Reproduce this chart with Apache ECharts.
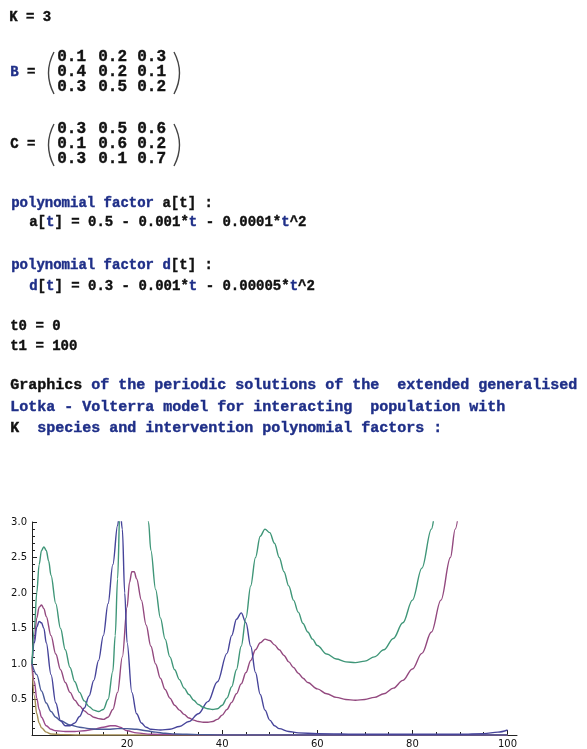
<!DOCTYPE html>
<html>
<head>
<meta charset="utf-8">
<script src="https://cdn.jsdelivr.net/npm/echarts@6/dist/echarts.min.js"></script>
<style>
  html, body { margin: 0; padding: 0; background: #ffffff; }
  #main { width: 587px; height: 749px; }
</style>
</head>
<body>
<div id="main"></div>
<script>
// Interaction matrices of the model
const matB = [[0.1, 0.2, 0.3], [0.4, 0.2, 0.1], [0.3, 0.5, 0.2]];
const matC = [[0.3, 0.5, 0.6], [0.1, 0.6, 0.2], [0.3, 0.1, 0.7]];

// Axis ticks
const xTicks = [20, 40, 60, 80, 100];
const yTicks = [0.5, 1.0, 1.5, 2.0, 2.5, 3.0];

// Population trajectories, [t, value]
const popGreen = [[0,1.0],[0.5,1.5],[1,2.0],[1.5,2.4],[2,2.6],[2.5,2.65],[3,2.6],[3.5,2.45],[4,2.25],[5,1.85],[6,1.5],[7,1.2],[8,0.95],[9,0.75],[10,0.6],[11,0.48],[12,0.4],[13,0.35],[14,0.33],[15,0.36],[16,0.5],[17,0.9],[17.5,1.4],[18,2.2],[18.5,3.2],[19,4.0],[20,5.0],[22,5.0],[24,3.3],[24.5,3.0],[25,2.6],[26,2.05],[27,1.65],[28,1.35],[29,1.1],[30,0.92],[31,0.78],[32,0.66],[33,0.57],[34,0.49],[35,0.43],[36,0.39],[37,0.37],[38,0.36],[39,0.37],[40,0.42],[41,0.52],[42,0.68],[43,0.92],[44,1.25],[45,1.65],[46,2.1],[47,2.5],[48,2.8],[49,2.9],[50,2.85],[51,2.7],[52,2.5],[53,2.3],[54,2.1],[55,1.9],[56,1.73],[57,1.57],[58,1.45],[59,1.35],[60,1.26],[62,1.14],[64,1.07],[66,1.03],[68,1.02],[70,1.04],[72,1.1],[74,1.2],[76,1.36],[78,1.58],[80,1.9],[82,2.35],[84,2.9],[85,3.2],[86,3.6]];

const popPurple = [[0,1.0],[0.5,1.35],[1,1.65],[1.5,1.8],[2,1.83],[2.5,1.78],[3,1.67],[4,1.4],[5,1.14],[6,0.92],[7,0.74],[8,0.6],[9,0.49],[10,0.41],[11,0.34],[12,0.29],[13,0.25],[14,0.23],[15,0.22],[16,0.25],[17,0.36],[18,0.6],[19,1.1],[20,1.8],[20.5,2.15],[21,2.3],[21.5,2.3],[22,2.2],[23,1.9],[24,1.55],[25,1.25],[26,1.0],[27,0.8],[28,0.64],[29,0.52],[30,0.42],[31,0.35],[32,0.29],[33,0.24],[34,0.21],[35,0.19],[36,0.18],[37,0.18],[38,0.19],[39,0.22],[40,0.28],[41,0.36],[42,0.46],[43,0.58],[44,0.72],[45,0.88],[46,1.05],[47,1.2],[48,1.3],[49,1.35],[50,1.33],[51,1.27],[52,1.2],[53,1.12],[54,1.03],[55,0.95],[56,0.87],[57,0.8],[58,0.74],[60,0.65],[62,0.58],[64,0.53],[66,0.5],[68,0.49],[70,0.5],[72,0.53],[74,0.58],[76,0.66],[78,0.77],[80,0.93],[82,1.15],[84,1.45],[86,1.9],[88,2.5],[89,2.9],[90,3.3]];

const popBlue = [[0,1.0],[0.5,1.3],[1,1.52],[1.5,1.6],[2,1.58],[2.5,1.5],[3,1.3],[4,0.85],[5,0.45],[6,0.2],[7,0.13],[8,0.13],[9,0.17],[10,0.26],[11,0.38],[12,0.55],[13,0.77],[14,1.05],[15,1.4],[16,1.85],[17,2.4],[18,2.95],[18.5,3.2],[19,2.9],[19.5,2.0],[20,1.3],[21,0.6],[22,0.3],[23,0.17],[24,0.11],[25,0.08],[27,0.07],[29,0.08],[31,0.12],[33,0.19],[35,0.3],[37,0.47],[39,0.75],[41,1.15],[42,1.4],[43,1.63],[44,1.72],[45,1.58],[46,1.25],[47,0.88],[48,0.57],[49,0.35],[50,0.21],[51,0.13],[52,0.09],[54,0.05],[56,0.03],[60,0.02],[70,0.01],[80,0.01],[90,0.01],[95,0.02],[98,0.04],[100,0.07]];

const popTan = [[0,1.0],[0.5,0.55],[1,0.3],[1.5,0.17],[2,0.1],[3,0.04],[4,0.015],[6,0.005],[10,0],[100,0]];

const popMagenta = [[0,1.0],[0.5,0.75],[1,0.52],[1.5,0.36],[2,0.25],[3,0.13],[4,0.08],[5,0.06],[7,0.05],[9,0.05],[11,0.06],[13,0.08],[15,0.11],[16.5,0.13],[17.5,0.13],[18.5,0.11],[20,0.06],[22,0.03],[25,0.01],[30,0.005],[40,0],[100,0]];

const popSteel = [[0,1.0],[1,0.85],[2,0.62],[3,0.45],[4,0.33],[5,0.25],[6,0.2],[8,0.14],[10,0.11],[12,0.09],[14,0.08],[16,0.08],[18,0.09],[20,0.09],[22,0.08],[24,0.06],[26,0.04],[28,0.025],[30,0.015],[35,0.005],[40,0],[100,0]];

const MONO = '"Liberation Mono", "Courier New", monospace';
const INK = '#111111';
const NAVY = '#1f2f88';

function richStyles(size) {
  const base = { fontFamily: MONO, fontWeight: 'bold', fontSize: size, lineWidth: 0.4 };
  return {
    k: Object.assign({ fill: INK, stroke: INK }, base),
    b: Object.assign({ fill: NAVY, stroke: NAVY }, base)
  };
}

function line(x, y, text, size) {
  size = size || 14;
  return {
    type: 'text', left: x, top: y - Math.round(size * 0.58),
    style: { text: text, rich: richStyles(size), fontFamily: MONO, fontWeight: 'bold', fontSize: size, fill: INK }
  };
}

function matrixBlock(label, mat, yMid) {
  const els = [];
  els.push(line(10, yMid, label));
  const colX = [57, 98, 137];
  const rowY = [yMid - 15, yMid, yMid + 15];
  mat.forEach((row, r) => {
    row.forEach((v, c) => {
      els.push({
        type: 'text', left: colX[c], top: rowY[r] - 9,
        style: { text: v.toFixed(1), fontFamily: MONO, fontWeight: 'bold', fontSize: 16, fill: INK,
                 stroke: INK, lineWidth: 0.4 }
      });
    });
  });
  // tall parentheses around the matrix
  els.push({ type: 'bezierCurve', shape: { x1: 54, y1: yMid - 21, x2: 54, y2: yMid + 21, cpx1: 43, cpy1: yMid },
             style: { stroke: '#444', lineWidth: 1.4, fill: null } });
  els.push({ type: 'bezierCurve', shape: { x1: 174, y1: yMid - 21, x2: 174, y2: yMid + 21, cpx1: 185, cpy1: yMid },
             style: { stroke: '#444', lineWidth: 1.4, fill: null } });
  return els;
}

const graphics = [
  line(9, 18, '{k|K = 3}'),
  ...matrixBlock('{b|B} {k|=}', matB, 73),
  ...matrixBlock('{k|C =}', matC, 145),
  line(11, 204, '{b|polynomial factor }{k|a[t] :}'),
  line(29, 223, '{k|a[}{b|t}{k|] = 0.5 - 0.001*}{b|t}{k| - 0.0001*}{b|t}{k|^2}'),
  line(11, 266, '{b|polynomial factor d}{k|[t] :}'),
  line(29, 287, '{b|d}{k|[}{b|t}{k|] = 0.3 - 0.001*}{b|t}{k| - 0.00005*}{b|t}{k|^2}'),
  line(10, 327, '{k|t0 = 0}'),
  line(10, 347, '{k|t1 = 100}'),
  line(10, 387, '{k|Graphics}{b| of the periodic solutions of the  extended generalised}', 15),
  line(10, 409, '{b|Lotka - Volterra model for interacting  population with}', 15),
  line(10, 430, '{k|K}{b|  species and intervention polynomial factors :}', 15)
];

function curve(name, data, color) {
  return {
    name: name, type: 'line', data: data, showSymbol: false, symbol: 'none',
    smooth: 0.35, smoothMonotone: 'x', clip: true,
    lineStyle: { color: color, width: 1.4 }
  };
}

const chart = echarts.init(document.getElementById('main'), null, { renderer: 'canvas' });
chart.setOption({
  animation: false,
  backgroundColor: '#ffffff',
  grid: { left: 32, top: 522, right: 70, bottom: 14, containLabel: false },
  xAxis: {
    type: 'value', min: 0, max: 102, interval: 20,
    axisLine: { show: true, onZero: false, lineStyle: { color: '#222', width: 1 } },
    axisTick: { show: true, inside: true, length: 5, customValues: xTicks, lineStyle: { color: '#222' } },
    minorTick: { show: true, splitNumber: 4, length: 3, lineStyle: { color: '#222' } },
    axisLabel: { show: true, customValues: xTicks, margin: 4, fontSize: 10, color: '#111', fontFamily: '"DejaVu Sans", sans-serif' },
    splitLine: { show: false }, minorSplitLine: { show: false }
  },
  yAxis: {
    type: 'value', min: 0, max: 3, interval: 0.5,
    axisLine: { show: true, onZero: false, lineStyle: { color: '#222', width: 1 } },
    axisTick: { show: true, inside: true, length: 5, lineStyle: { color: '#222' } },
    minorTick: { show: true, splitNumber: 5, length: 3, lineStyle: { color: '#222' } },
    axisLabel: {
      show: true, margin: 5, fontSize: 10, color: '#111', fontFamily: '"DejaVu Sans", sans-serif',
      customValues: yTicks,
      formatter: v => v.toFixed(1)
    },
    splitLine: { show: false }, minorSplitLine: { show: false }
  },
  series: [
    curve('x3', popTan, '#a58f55'),
    curve('y3', popMagenta, '#9a4a8c'),
    curve('y2', popSteel, '#4a5a98'),
    curve('x2', popPurple, '#93497f'),
    curve('x1', popBlue, '#46449a'),
    curve('y1', popGreen, '#3f9678')
  ],
  graphic: graphics
});
</script>
</body>
</html>
